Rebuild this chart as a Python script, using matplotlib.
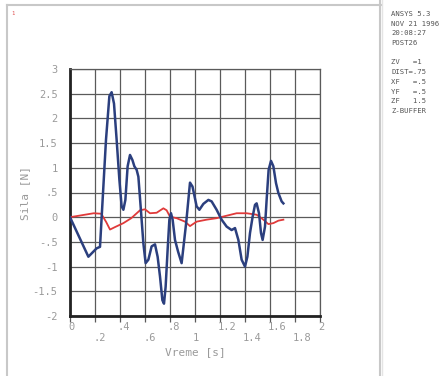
import matplotlib.pyplot as plt
from matplotlib.lines import Line2D
from matplotlib.transforms import ScaledTranslation

# time samples [s] and the two force histories [N]
t_blue = [0.0, 0.147, 0.213, 0.24, 0.261, 0.288, 0.315, 0.333, 0.352, 0.373, 0.395,
          0.413, 0.427, 0.443, 0.461, 0.48, 0.499, 0.515, 0.533, 0.547, 0.565, 0.587,
          0.605, 0.627, 0.653, 0.68, 0.701, 0.72, 0.739, 0.752, 0.765, 0.781, 0.795,
          0.808, 0.821, 0.84, 0.865, 0.893, 0.93, 0.96, 0.98, 1.013, 1.035, 1.067,
          1.107, 1.133, 1.173, 1.213, 1.253, 1.293, 1.32, 1.347, 1.373, 1.4, 1.419,
          1.44, 1.461, 1.48, 1.493, 1.512, 1.528, 1.541, 1.56, 1.573, 1.589, 1.608,
          1.627, 1.648, 1.667, 1.693, 1.707]
f_blue = [0.0, -0.8, -0.63, -0.6, 0.35, 1.57, 2.45, 2.53, 2.3, 1.57, 0.76,
          0.22, 0.15, 0.35, 1.03, 1.26, 1.16, 1.03, 0.96, 0.82, 0.22, -0.53,
          -0.93, -0.86, -0.59, -0.55, -0.8, -1.2, -1.68, -1.75, -1.41, -0.66, -0.05,
          0.08, -0.05, -0.46, -0.7, -0.93, -0.1, 0.7, 0.62, 0.22, 0.15, 0.27,
          0.35, 0.32, 0.15, -0.05, -0.19, -0.26, -0.22, -0.46, -0.86, -1.0, -0.8,
          -0.32, 0.01, 0.25, 0.28, 0.08, -0.32, -0.46, -0.19, 0.35, 0.96, 1.14,
          1.03, 0.69, 0.49, 0.32, 0.28]

t_red = [0.0, 0.19, 0.25, 0.29, 0.32, 0.36, 0.427, 0.49, 0.56, 0.6, 0.64, 0.693,
         0.747, 0.773, 0.8, 0.853, 0.92, 0.96, 1.013, 1.093, 1.173, 1.253, 1.333,
         1.413, 1.493, 1.547, 1.587, 1.627, 1.667, 1.707]
f_red = [0.0, 0.08, 0.07, -0.1, -0.25, -0.2, -0.12, -0.02, 0.14, 0.16, 0.08, 0.09,
         0.18, 0.14, 0.01, -0.02, -0.09, -0.18, -0.09, -0.05, -0.02, 0.03, 0.08,
         0.08, 0.05, -0.05, -0.14, -0.12, -0.07, -0.05]

x_ticks = [0, 0.2, 0.4, 0.6, 0.8, 1.0, 1.2, 1.4, 1.6, 1.8, 2.0]
x_labels = ['0', '.2', '.4', '.6', '.8', '1', '1.2', '1.4', '1.6', '1.8', '2']
y_ticks = [-2, -1.5, -1, -0.5, 0, 0.5, 1, 1.5, 2, 2.5, 3]
y_labels = ['-2', '-1.5', '-1', '-.5', '0', '.5', '1', '1.5', '2', '2.5', '3']

info_lines = ['ANSYS 5.3', 'NOV 21 1996', '20:08:27', 'POST26', '',
              'ZV   =1', 'DIST=.75', 'XF   =.5', 'YF   =.5', 'ZF   1.5', 'Z-BUFFER']

mono = 'DejaVu Sans Mono'
txt_col = '#9a9a9a'

fig = plt.figure(figsize=(4.43, 3.76), dpi=100)
fig.patch.set_facecolor('white')

# window frame
frame_col = '#c8c8c8'
fig.add_artist(Line2D([7/443, 7/443], [0, 1 - 5/376], color=frame_col, lw=1.5))
fig.add_artist(Line2D([7/443, 381/443], [1 - 5/376, 1 - 5/376], color=frame_col, lw=1.5))
fig.add_artist(Line2D([380/443, 380/443], [0, 1], color=frame_col, lw=1.5))
fig.add_artist(Line2D([382/443, 382/443], [0, 1], color='#e4e4e4', lw=1))
fig.text(11/443, 1 - 15/376, '1', color='#e05050', fontsize=4, family=mono)

ax = fig.add_axes([70/443, 60/376, 250/443, 247/376])
ax.plot(t_red, f_red, color='#e03a3a', lw=1.3, zorder=3)
ax.plot(t_blue, f_blue, color='#2b3f7e', lw=1.8, zorder=4)

ax.set_xlim(0, 2)
ax.set_ylim(-2, 3)
ax.set_xticks(x_ticks)
# staggered labels: every other one drops to a second row
ax.set_xticklabels([lab if i % 2 == 0 else '\n' + lab for i, lab in enumerate(x_labels)])
ax.set_yticks(y_ticks)
ax.set_yticklabels(y_labels)
ax.grid(True, color='#5a5a5a', lw=0.9)
ax.tick_params(axis='x', length=4, width=0.9, color='#5a5a5a', labelsize=7.5,
               labelcolor=txt_col, pad=0)
ax.tick_params(axis='y', length=0, labelsize=7.5, labelcolor=txt_col, pad=9)
shift = ScaledTranslation(-2/100, 0, fig.dpi_scale_trans)
for lab in ax.get_xticklabels():
    lab.set_family(mono)
    lab.set_horizontalalignment('left')
    lab.set_transform(lab.get_transform() + shift)
for lab in ax.get_yticklabels():
    lab.set_family(mono)

for side in ['top', 'right']:
    ax.spines[side].set_color('#5a5a5a')
    ax.spines[side].set_linewidth(0.9)
for side in ['left', 'bottom']:
    ax.spines[side].set_color('#222222')
    ax.spines[side].set_linewidth(2)

ax.set_xlabel('Vreme [s]', fontsize=8, color=txt_col, family=mono, labelpad=3)
ax.set_ylabel('Sila [N]', fontsize=8, color=txt_col, family=mono, labelpad=2)

for i, line in enumerate(info_lines):
    fig.text(391/443, 1 - (14 + 9.7 * i)/376, line, fontsize=5.2, family=mono,
             color='#555555', va='center')

fig.savefig('out.png', dpi=100, facecolor='white')
